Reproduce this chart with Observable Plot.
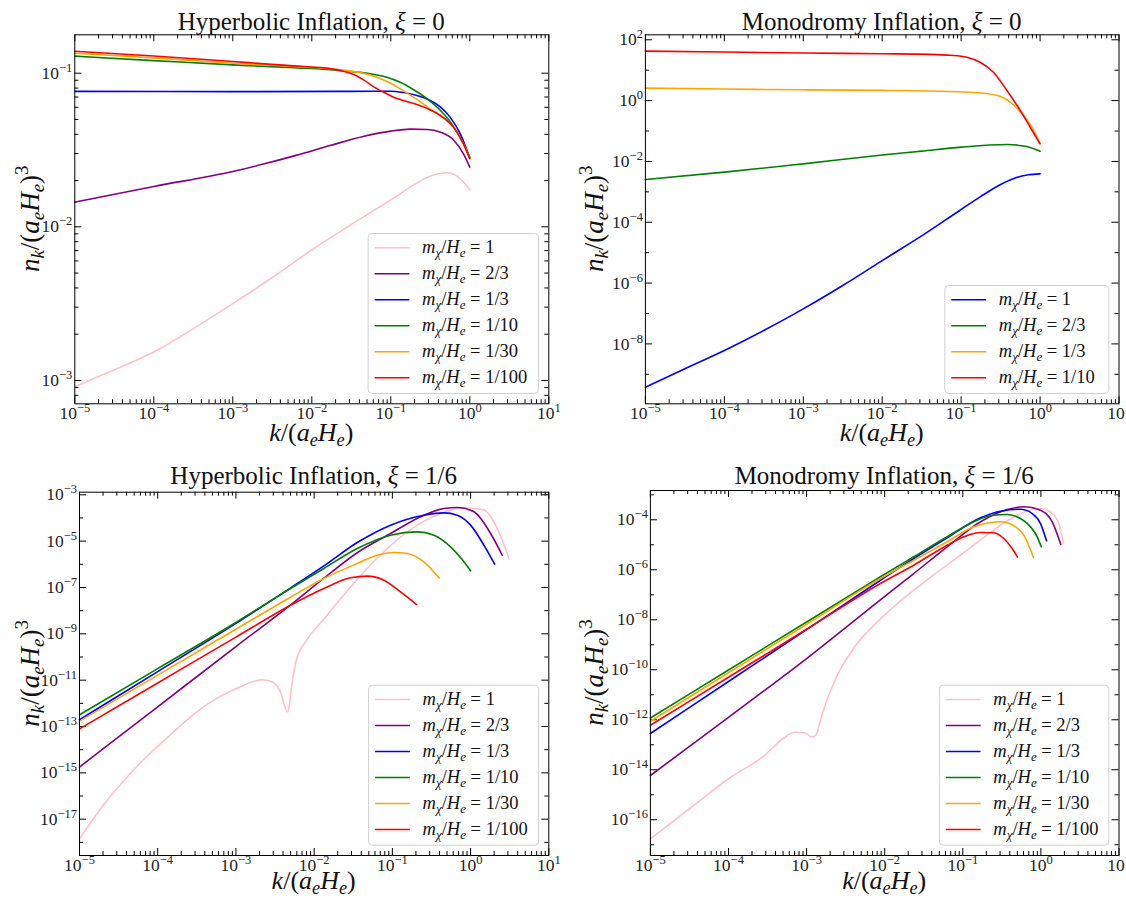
<!DOCTYPE html>
<html><head><meta charset="utf-8">
<script src="https://cdn.jsdelivr.net/npm/d3@7"></script>
<script src="https://cdn.jsdelivr.net/npm/@observablehq/plot@0.6"></script>
<style>
html,body{margin:0;padding:0;background:#fff;}
#fig{position:relative;width:1126px;height:899px;overflow:hidden;background:#fff;}
.panel{position:absolute;}
</style></head><body><div id="fig"></div>
<script>
// ---------- data (log10 k, log10 n_k) ----------
const xMajorExp = [-5, -4, -3, -2, -1, 0, 1];

const massLabels6 = ["1", "2/3", "1/3", "1/10", "1/30", "1/100"];
const colors6 = ["pink", "purple", "blue", "green", "orange", "red"];
const massLabels4 = ["1", "2/3", "1/3", "1/10"];
const colors4 = ["blue", "green", "orange", "red"];

// Hyperbolic inflation, xi = 0
const hyp0_m1 = [[-5,-3.04],[-4.5,-2.93],[-4,-2.815],[-3.5,-2.663],[-3,-2.5],[-2.5,-2.33],[-2,-2.15],[-1.5,-1.985],[-1.0,-1.825],[-0.75,-1.74],[-0.55,-1.68],[-0.4,-1.655],[-0.28,-1.648],[-0.12,-1.687],[0,-1.759]];
const hyp0_m23 = [[-5,-1.839],[-4,-1.737],[-3,-1.64],[-2.6,-1.59],[-2.2,-1.535],[-1.77,-1.471],[-1.35,-1.412],[-1.0,-1.377],[-0.75,-1.364],[-0.54,-1.366],[-0.37,-1.384],[-0.2,-1.438],[-0.08,-1.525],[0,-1.612]];
const hyp0_m13 = [[-5,-1.118],[-3,-1.12],[-1.5,-1.118],[-1.0,-1.117],[-0.84,-1.126],[-0.67,-1.145],[-0.5,-1.178],[-0.37,-1.221],[-0.25,-1.286],[-0.12,-1.395],[0,-1.552]];
const hyp0_m110 = [[-5,-0.889],[-4,-0.918],[-3,-0.946],[-2.19,-0.965],[-1.64,-0.983],[-1.26,-1.004],[-1.05,-1.026],[-0.88,-1.059],[-0.71,-1.108],[-0.54,-1.167],[-0.37,-1.243],[-0.2,-1.351],[-0.08,-1.46],[0,-1.547]];
const hyp0_m130 = [[-5,-0.87],[-4,-0.9],[-3,-0.935],[-2.2,-0.957],[-1.64,-0.978],[-1.35,-1.0],[-1.18,-1.026],[-1.0,-1.065],[-0.84,-1.115],[-0.67,-1.17],[-0.5,-1.234],[-0.33,-1.291],[-0.2,-1.356],[-0.08,-1.46],[0,-1.555]];
const hyp0_m1100 = [[-5,-0.857],[-4,-0.888],[-3,-0.924],[-2.6,-0.939],[-2.19,-0.954],[-1.77,-0.97],[-1.6,-0.987],[-1.47,-1.009],[-1.345,-1.043],[-1.22,-1.087],[-1.09,-1.124],[-0.965,-1.156],[-0.84,-1.178],[-0.67,-1.204],[-0.5,-1.239],[-0.33,-1.291],[-0.2,-1.356],[-0.08,-1.46],[0,-1.557]];

// Monodromy inflation, xi = 0
const mon0_m1 = [[-5,-9.425],[-4.5,-8.82],[-4,-8.22],[-3.5,-7.56],[-3,-6.85],[-2.5,-6.08],[-2,-5.26],[-1.5,-4.45],[-1.0,-3.58],[-0.75,-3.15],[-0.5,-2.76],[-0.3,-2.53],[-0.15,-2.44],[0,-2.408]];
const mon0_m23 = [[-5,-2.594],[-4,-2.353],[-3,-2.079],[-2,-1.79],[-1.5,-1.66],[-1.0,-1.53],[-0.42,-1.444],[-0.17,-1.51],[0,-1.664]];
const mon0_m13 = [[-5,0.41],[-4,0.38],[-3,0.355],[-2,0.335],[-1.77,0.332],[-1.14,0.299],[-0.72,0.244],[-0.5,0.135],[-0.34,-0.128],[-0.21,-0.49],[-0.08,-0.984],[0,-1.42]];
const mon0_m110 = [[-5,1.627],[-4,1.6],[-3,1.565],[-2,1.54],[-1.4,1.52],[-1.14,1.49],[-0.93,1.428],[-0.76,1.263],[-0.59,0.934],[-0.42,0.332],[-0.25,-0.326],[-0.125,-0.875],[0,-1.42]];

// Hyperbolic inflation, xi = 1/6
const hyp6_m1 = [[-5,-17.85],[-4.7,-16.41],[-4.275,-14.756],[-3.85,-13.39],[-3.42,-12.167],[-3.0,-11.373],[-2.66,-10.985],[-2.53,-11.09],[-2.44,-11.446],[-2.337,-12.38],[-2.29,-11.3],[-2.23,-10.15],[-2.1,-9.29],[-1.89,-8.43],[-1.66,-7.476],[-1.24,-5.89],[-0.81,-4.6],[-0.38,-3.81],[-0.085,-3.56],[0.17,-3.66],[0.34,-4.45],[0.49,-5.75]];
const hyp6_m23 = [[-5,-14.75],[-4,-12.15],[-3,-9.55],[-2.3,-7.75],[-1.876,-6.6],[-1.449,-5.5],[-1.023,-4.67],[-0.597,-3.88],[-0.341,-3.59],[-0.17,-3.548],[0.043,-3.735],[0.256,-4.67],[0.405,-5.61]];
const hyp6_m13 = [[-5,-12.71],[-4,-10.63],[-3,-8.55],[-2.3,-7.02],[-1.876,-6.07],[-1.449,-5.06],[-1.023,-4.31],[-0.597,-3.88],[-0.341,-3.78],[-0.17,-3.88],[0,-4.31],[0.17,-5.17],[0.307,-5.99]];
const hyp6_m110 = [[-5,-12.495],[-4,-10.5],[-3,-8.51],[-2.302,-7.044],[-1.876,-6.18],[-1.449,-5.318],[-1.023,-4.743],[-0.682,-4.6],[-0.469,-4.743],[-0.256,-5.244],[-0.085,-5.892],[0,-6.28]];
const hyp6_m130 = [[-5,-12.77],[-4,-10.78],[-3,-8.8],[-2.302,-7.42],[-1.876,-6.61],[-1.449,-5.965],[-1.193,-5.605],[-0.98,-5.49],[-0.81,-5.53],[-0.597,-5.89],[-0.4,-6.6]];
const hyp6_m1100 = [[-5,-13.1],[-4,-11.12],[-3,-9.14],[-2.302,-7.765],[-1.876,-7.044],[-1.535,-6.58],[-1.321,-6.51],[-1.108,-6.686],[-0.895,-7.19],[-0.69,-7.735]];

// Monodromy inflation, xi = 1/6
const mon6_m1 = [[-5,-16.76],[-4.5,-15.56],[-4,-14.36],[-3.54,-13.43],[-3.3,-12.75],[-3.15,-12.5],[-3.02,-12.53],[-2.93,-12.69],[-2.88,-12.6],[-2.8,-11.76],[-2.62,-10.3],[-2.4,-9.15],[-2.1,-8.1],[-1.8,-7.25],[-1.5,-6.5],[-1.2,-5.8],[-0.9,-5.1],[-0.6,-4.4],[-0.4,-3.98],[-0.2,-3.68],[0,-3.55],[0.12,-3.68],[0.23,-4.15],[0.29,-4.95]];
const mon6_m23 = [[-5,-14.23],[-4,-11.9],[-3,-9.55],[-2.055,-7.2],[-1.628,-6.15],[-1.2,-5.08],[-0.773,-4.08],[-0.432,-3.588],[-0.219,-3.48],[-0.005,-3.616],[0.145,-4.08],[0.255,-4.99]];
const mon6_m13 = [[-5,-12.55],[-4,-10.47],[-3,-8.39],[-2.055,-6.42],[-1.628,-5.55],[-1.2,-4.72],[-0.773,-3.92],[-0.517,-3.656],[-0.261,-3.576],[-0.11,-3.75],[-0.005,-4.15],[0.072,-4.84]];
const mon6_m110 = [[-5,-11.93],[-4,-10.01],[-3,-8.09],[-2.055,-6.28],[-1.628,-5.48],[-1.2,-4.68],[-0.859,-4.08],[-0.645,-3.84],[-0.432,-3.79],[-0.261,-3.95],[-0.133,-4.28],[-0.047,-4.68],[0.005,-5.08]];
const mon6_m130 = [[-5,-12.06],[-4,-10.12],[-3,-8.18],[-2.055,-6.35],[-1.628,-5.616],[-1.2,-4.88],[-0.859,-4.28],[-0.645,-4.108],[-0.517,-4.08],[-0.347,-4.24],[-0.219,-4.616],[-0.095,-5.51]];
const mon6_m1100 = [[-5,-12.22],[-4,-10.3],[-3,-8.38],[-2.055,-6.548],[-1.628,-5.816],[-1.2,-5.016],[-0.987,-4.68],[-0.773,-4.508],[-0.603,-4.52],[-0.475,-4.748],[-0.368,-5.148],[-0.3,-5.49]];

// ---------- panel configuration ----------
const panels = [
  {left: 0, top: 0, height: 450, ml: 74.3, mr: 14.7, mt: 34.3, mb: 46.7, yExp: [-3.152, -0.75],
   yLab: [-3, -2, -1], minor: "sub", title: ["Hyperbolic Inflation, ", "ξ", " = 0"], titleY: 29.5, ylabX: 39, xlabY: 441,
   series: [hyp0_m1, hyp0_m23, hyp0_m13, hyp0_m110, hyp0_m130, hyp0_m1100], labels: massLabels6, colors: colors6, legW: 170.5},
  {left: 563, top: 0, height: 450, ml: 81.9, mr: 7.5, mt: 34.3, mb: 46.7, yExp: [-9.97, 2.164],
   yLab: [2, 0, -2, -4, -6, -8], yMinorExp: [1, -1, -3, -5, -7, -9], minor: "dec", title: ["Monodromy Inflation, ", "ξ", " = 0"], titleY: 29.5, ylabX: 40, xlabY: 441,
   series: [mon0_m1, mon0_m23, mon0_m13, mon0_m110], labels: massLabels4, colors: colors4, legW: 164},
  {left: 0, top: 450, height: 449, ml: 79, mr: 14.7, mt: 41.7, mb: 44, yExp: [-18.567, -2.888],
   yLab: [-3, -5, -7, -9, -11, -13, -15, -17], yMinorExp: [-4, -6, -8, -10, -12, -14, -16, -18], minor: "dec", title: ["Hyperbolic Inflation, ", "ξ", " = 1/6"], titleY: 33.5, ylabX: 39, xlabY: 438.5,
   series: [hyp6_m1, hyp6_m23, hyp6_m13, hyp6_m110, hyp6_m130, hyp6_m1100], labels: massLabels6, colors: colors6, legW: 170},
  {left: 563, top: 450, height: 449, ml: 86.9, mr: 7.5, mt: 40, mb: 44, yExp: [-17.43, -2.828],
   yLab: [-4, -6, -8, -10, -12, -14, -16], yMinorExp: [-3, -5, -7, -9, -11, -13, -15, -17], minor: "dec", title: ["Monodromy Inflation, ", "ξ", " = 1/6"], titleY: 33.5, ylabX: 40, xlabY: 438.5,
   series: [mon6_m1, mon6_m23, mon6_m13, mon6_m110, mon6_m130, mon6_m1100], labels: massLabels6, colors: colors6, legW: 169.5}
];

// ---------- helpers ----------
const FONT = "'Liberation Serif', 'DejaVu Serif', serif";
const W = 563;
const toPts = arr => arr.map(([a, b]) => ({k: 10 ** a, n: 10 ** b}));
const xMajor = xMajorExp.map(e => 10 ** e);
const xMinor = [];
for (let e = -5; e < 1; e++) for (let m = 2; m <= 9; m++) xMinor.push(m * 10 ** e);

function parseMath(s) {
  const parts = [];
  for (let i = 0; i < s.length; i++) {
    let c = s[i], sub = false, sup = false;
    if (c === "_" || c === "^") { sub = c === "_"; sup = c === "^"; i++; c = s[i]; }
    parts.push({t: c, sub, sup, i: /[A-Za-z\u03b1-\u03c9]/.test(c)});
  }
  return parts;
}
function buildMath(textSel, parts, size) {
  let shift = 0;
  parts.forEach(p => {
    const target = p.sub ? size * 0.2 : p.sup ? -size * 0.42 : 0;
    textSel.append("tspan")
      .attr("dy", (target - shift).toFixed(2))
      .attr("font-size", (p.sub || p.sup) ? size * 0.7 : size)
      .attr("font-style", p.i ? "italic" : "normal")
      .text(p.t);
    shift = target;
  });
}

const fig = document.getElementById("fig");

panels.forEach(P => {
  const H = P.height;
  const fw = W - P.ml - P.mr, fh = H - P.mt - P.mb;
  const yMin = 10 ** P.yExp[0], yMax = 10 ** P.yExp[1];
  const yMajor = P.yLab.map(e => 10 ** e);
  let yMinor = [];
  if (P.minor === "sub") {
    for (let e = Math.floor(P.yExp[0]); e < Math.ceil(P.yExp[1]); e++)
      for (let m = 2; m <= 9; m++) { const v = m * 10 ** e; if (v >= yMin && v <= yMax) yMinor.push(v); }
  } else yMinor = P.yMinorExp.map(e => 10 ** e).filter(v => v >= yMin && v <= yMax);

  const expFmt = d => String(Math.round(Math.log10(d)));
  const marks = [
    Plot.tickX(xMajor, {x: d => d, stroke: "black", insetTop: fh - 7}),
    Plot.tickX(xMajor, {x: d => d, stroke: "black", insetBottom: fh - 7}),
    Plot.tickX(xMinor, {x: d => d, stroke: "black", insetTop: fh - 4}),
    Plot.tickX(xMinor, {x: d => d, stroke: "black", insetBottom: fh - 4}),
    Plot.tickY(yMajor, {y: d => d, stroke: "black", insetRight: fw - 7}),
    Plot.tickY(yMajor, {y: d => d, stroke: "black", insetLeft: fw - 7}),
    Plot.tickY(yMinor, {y: d => d, stroke: "black", insetRight: fw - 4}),
    Plot.tickY(yMinor, {y: d => d, stroke: "black", insetLeft: fw - 4}),
    Plot.axisX(xMajor, {anchor: "bottom", tickSize: 0, tickPadding: 3, tickFormat: expFmt, label: null, fill: "#222", fontSize: 17.5}),
    Plot.axisY(yMajor, {anchor: "left", tickSize: 0, tickPadding: 2.5, tickFormat: expFmt, label: null, fill: "#222", fontSize: 17.5}),
    ...P.series.map((s, i) => Plot.line(toPts(s), {x: "k", y: "n", stroke: P.colors[i], strokeWidth: 1.6, curve: "monotone-x"})),
    Plot.frame({stroke: "black", strokeWidth: 1})
  ];

  const svg = Plot.plot({
    width: W, height: H,
    marginLeft: P.ml, marginRight: P.mr, marginTop: P.mt, marginBottom: P.mb,
    x: {type: "log", domain: [1e-5, 10]},
    y: {type: "log", domain: [yMin, yMax]},
    style: {fontFamily: FONT, fontSize: "17.5px", background: "transparent", color: "black"},
    marks
  });

  const wrap = document.createElement("div");
  wrap.className = "panel";
  wrap.style.left = P.left + "px";
  wrap.style.top = P.top + "px";
  wrap.appendChild(svg);
  fig.appendChild(wrap);

  // tick labels as 10^n with superscript exponent
  svg.querySelectorAll('[aria-label="x-axis tick label"] text, [aria-label="y-axis tick label"] text').forEach(t => {
    const e = t.textContent.replace("-", "\u2212");
    t.textContent = "";
    const sel = d3.select(t).attr("font-family", FONT);
    sel.append("tspan").attr("font-size", 17.5).text("10");
    sel.append("tspan").attr("dy", -7).attr("font-size", 12.5).text(e);
  });

  const S = d3.select(svg);
  const cx = P.ml + fw / 2, cy = P.mt + fh / 2;

  // title
  const tt = S.append("text").attr("x", cx).attr("y", P.titleY).attr("text-anchor", "middle")
    .attr("font-family", FONT).attr("font-size", 25).style("white-space", "pre").attr("fill", "#111");
  tt.append("tspan").text(P.title[0]);
  tt.append("tspan").attr("font-style", "italic").text(P.title[1]);
  tt.append("tspan").text(P.title[2]);

  // x label
  const xl = S.append("text").attr("x", cx).attr("y", P.xlabY).attr("text-anchor", "middle")
    .attr("font-family", FONT).attr("fill", "#111").style("white-space", "pre");
  buildMath(xl, parseMath("k/(a_eH_e)"), 26);

  // y label
  const yl = S.append("text").attr("transform", `translate(${P.ylabX},${cy}) rotate(-90)`).attr("text-anchor", "middle")
    .attr("font-family", FONT).attr("fill", "#111").style("white-space", "pre");
  buildMath(yl, parseMath("n_k/(a_eH_e)^3"), 27);

  // legend
  const rows = P.labels.length;
  const legH = rows * 26 + 4;
  const lx = W - P.mr - 9.7 - P.legW, ly = H - P.mb - 9.8 - legH;
  const lg = S.append("g");
  lg.append("rect").attr("x", lx).attr("y", ly).attr("width", P.legW).attr("height", legH).attr("rx", 4)
    .attr("fill", "white").attr("fill-opacity", 0.8).attr("stroke", "#d0d0d0").attr("stroke-width", 1);
  P.labels.forEach((lab, i) => {
    const ry = ly + 14.3 + 26 * i;
    lg.append("line").attr("x1", lx + 6.5).attr("x2", lx + 41.3).attr("y1", ry).attr("y2", ry)
      .attr("stroke", P.colors[i]).attr("stroke-width", 1.6);
    const tx = lg.append("text").attr("x", lx + 54).attr("y", ry + 5.5).attr("font-family", FONT)
      .attr("text-anchor", "start").attr("fill", "#111").style("white-space", "pre");
    buildMath(tx, parseMath("m_χ/H_e = ").concat([{t: lab, i: false}]), 18.5);
  });
});
</script></body></html>
